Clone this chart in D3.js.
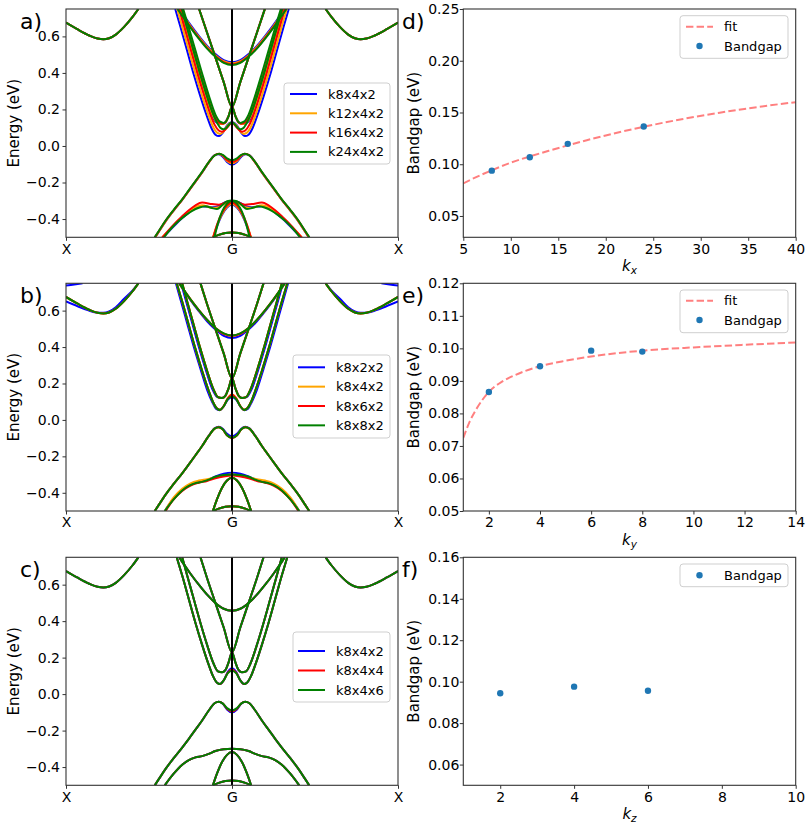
<!DOCTYPE html>
<html>
<head>
<meta charset="utf-8">
<script src="https://cdn.jsdelivr.net/npm/d3@7"></script>
<style>
  html, body { margin: 0; background: #fff; }
  svg { display: block; font-family: "DejaVu Sans", sans-serif; }
</style>
</head>
<body>
<svg id="fig" width="807" height="827"></svg>
<script>
/* band structures (a-c) + bandgap convergence (d-f) */

/* band shapes: right half only, [distance from G, energy eV]; left half is the mirror */
const CB_EDGE = [[0.564,0.75],[0.6,0.705],[0.65,0.652],[0.7,0.61],[0.74,0.59],[0.775,0.584],[0.81,0.588],[0.86,0.605],[0.93,0.638],[1.0,0.675]];
const CB1 = [[0,0.128],[0.025,0.115],[0.05,0.075],[0.072,0.055],[0.09,0.062],[0.115,0.1],[0.14,0.16],[0.18,0.27],[0.22,0.39],[0.26,0.52],[0.3,0.65],[0.333,0.75]];
const CB2 = [[0,0.23],[0.02,0.175],[0.04,0.132],[0.06,0.12],[0.085,0.125],[0.11,0.165],[0.15,0.27],[0.19,0.39],[0.23,0.52],[0.27,0.65],[0.3,0.75]];
const CB3 = [[0,0.23],[0.05,0.365],[0.1,0.5],[0.15,0.635],[0.19,0.75]];
const CB4 = [[0,0.457],[0.05,0.468],[0.1,0.5],[0.15,0.545],[0.2,0.6],[0.25,0.66],[0.3,0.725],[0.318,0.75]];
const VB1 = [[0,-0.09],[0.03,-0.077],[0.055,-0.052],[0.08,-0.042],[0.105,-0.05],[0.14,-0.09],[0.18,-0.145],[0.22,-0.195],[0.26,-0.245],[0.3,-0.293],[0.35,-0.35],[0.4,-0.41],[0.44,-0.465],[0.465,-0.5]];
const VB2 = [[0,-0.3],[0.05,-0.302],[0.1,-0.312],[0.14,-0.328],[0.18,-0.34],[0.22,-0.347],[0.26,-0.362],[0.3,-0.387],[0.35,-0.435],[0.405,-0.5]];
const VB3 = [[0,-0.318],[0.03,-0.333],[0.06,-0.372],[0.09,-0.435],[0.115,-0.5]];
const VB4 = [[0,-0.474],[0.04,-0.477],[0.08,-0.487],[0.115,-0.5]];

/* panel a: per-series bands (k8x4x2, k12x4x2, k16x4x2, k24x4x2) */
const A_CB1 = [
  [[0,0.13],[0.03,0.113],[0.055,0.073],[0.078,0.054],[0.1,0.062],[0.125,0.1],[0.15,0.16],[0.19,0.27],[0.23,0.39],[0.27,0.52],[0.31,0.65],[0.342,0.75]],
  [[0,0.128],[0.03,0.108],[0.05,0.08],[0.07,0.066],[0.09,0.073],[0.115,0.107],[0.14,0.165],[0.18,0.275],[0.22,0.395],[0.26,0.525],[0.3,0.655],[0.33,0.75]],
  [[0,0.128],[0.025,0.105],[0.045,0.086],[0.06,0.078],[0.08,0.085],[0.105,0.117],[0.13,0.172],[0.17,0.283],[0.21,0.403],[0.25,0.533],[0.29,0.663],[0.317,0.75]],
  [[0,0.13],[0.02,0.115],[0.035,0.098],[0.05,0.092],[0.068,0.098],[0.09,0.127],[0.12,0.188],[0.16,0.298],[0.2,0.418],[0.24,0.548],[0.28,0.678],[0.302,0.75]]
];
const A_CB2 = [
  [[0,0.215],[0.02,0.165],[0.04,0.132],[0.065,0.12],[0.095,0.13],[0.125,0.175],[0.165,0.28],[0.205,0.4],[0.245,0.525],[0.285,0.65],[0.318,0.75]],
  [[0,0.215],[0.02,0.165],[0.04,0.13],[0.06,0.12],[0.088,0.128],[0.118,0.172],[0.158,0.277],[0.198,0.397],[0.238,0.522],[0.278,0.647],[0.312,0.75]],
  [[0,0.215],[0.02,0.165],[0.038,0.13],[0.055,0.122],[0.08,0.13],[0.11,0.172],[0.15,0.277],[0.19,0.397],[0.23,0.522],[0.27,0.647],[0.304,0.75]],
  [[0,0.215],[0.02,0.165],[0.035,0.135],[0.05,0.126],[0.072,0.133],[0.1,0.172],[0.14,0.277],[0.18,0.397],[0.22,0.522],[0.26,0.647],[0.294,0.75]]
];
const A_CB3 = [[0,0.215],[0.05,0.35],[0.1,0.485],[0.15,0.62],[0.198,0.75]];
const A_CB4 = [
  [[0,0.458],[0.05,0.47],[0.1,0.503],[0.15,0.548],[0.2,0.603],[0.25,0.663],[0.3,0.728],[0.317,0.75]],
  [[0,0.452],[0.05,0.464],[0.1,0.497],[0.15,0.542],[0.2,0.597],[0.25,0.657],[0.3,0.722],[0.321,0.75]],
  [[0,0.447],[0.05,0.459],[0.1,0.492],[0.15,0.537],[0.2,0.592],[0.25,0.652],[0.3,0.717],[0.325,0.75]],
  [[0,0.443],[0.05,0.455],[0.1,0.488],[0.15,0.533],[0.2,0.588],[0.25,0.648],[0.3,0.713],[0.328,0.75]]
];
const A_VB1 = [
  [[0,-0.103],[0.03,-0.088],[0.057,-0.057],[0.082,-0.045],[0.108,-0.053],[0.14,-0.09],[0.18,-0.145],[0.22,-0.195],[0.26,-0.245],[0.3,-0.295],[0.35,-0.352],[0.4,-0.413],[0.44,-0.468],[0.463,-0.5]],
  [[0,-0.095],[0.03,-0.082],[0.056,-0.054],[0.08,-0.044],[0.106,-0.052],[0.14,-0.09],[0.18,-0.145],[0.22,-0.195],[0.26,-0.245],[0.3,-0.295],[0.35,-0.352],[0.4,-0.413],[0.44,-0.468],[0.463,-0.5]],
  [[0,-0.088],[0.03,-0.077],[0.055,-0.052],[0.078,-0.043],[0.104,-0.051],[0.14,-0.09],[0.18,-0.144],[0.22,-0.194],[0.26,-0.244],[0.3,-0.294],[0.35,-0.35],[0.4,-0.41],[0.44,-0.466],[0.464,-0.5]],
  [[0,-0.078],[0.03,-0.068],[0.053,-0.05],[0.076,-0.042],[0.102,-0.05],[0.14,-0.088],[0.18,-0.142],[0.22,-0.192],[0.26,-0.242],[0.3,-0.292],[0.35,-0.348],[0.4,-0.408],[0.44,-0.464],[0.466,-0.5]]
];
const A_VB2 = [
  [[0,-0.303],[0.04,-0.308],[0.08,-0.328],[0.12,-0.335],[0.18,-0.33],[0.22,-0.34],[0.26,-0.365],[0.3,-0.395],[0.34,-0.43],[0.38,-0.467],[0.415,-0.5]],
  [[0,-0.31],[0.04,-0.315],[0.08,-0.335],[0.12,-0.338],[0.18,-0.325],[0.22,-0.335],[0.26,-0.36],[0.3,-0.39],[0.34,-0.425],[0.38,-0.462],[0.42,-0.5]],
  [[0,-0.305],[0.04,-0.31],[0.08,-0.322],[0.12,-0.318],[0.18,-0.31],[0.22,-0.325],[0.26,-0.352],[0.3,-0.385],[0.34,-0.42],[0.38,-0.46],[0.42,-0.5]],
  [[0,-0.298],[0.03,-0.302],[0.06,-0.325],[0.09,-0.345],[0.12,-0.34],[0.16,-0.33],[0.2,-0.338],[0.24,-0.355],[0.28,-0.38],[0.32,-0.41],[0.36,-0.445],[0.41,-0.5]]
];
const A_VB3 = [
  [[0,-0.322],[0.03,-0.337],[0.06,-0.377],[0.09,-0.44],[0.113,-0.5]],
  [[0,-0.318],[0.03,-0.333],[0.06,-0.373],[0.09,-0.435],[0.115,-0.5]],
  [[0,-0.31],[0.03,-0.326],[0.06,-0.367],[0.09,-0.43],[0.113,-0.5]],
  [[0,-0.3],[0.03,-0.316],[0.06,-0.36],[0.085,-0.425],[0.106,-0.5]]
];

/* panel b: per-series bands (k8x2x2, k8x4x2, k8x6x2, k8x8x2) */
const B_EDGE = [
  [[0.564,0.75],[0.6,0.71],[0.65,0.665],[0.7,0.618],[0.74,0.595],[0.775,0.588],[0.82,0.59],[0.87,0.603],[0.93,0.624],[1.0,0.65]],
  CB_EDGE, CB_EDGE, CB_EDGE
];
const B_XTOP = [[[0.9,0.75],[0.95,0.743],[1.0,0.738]], null, null, null];
const B_CB1 = [
  [[0,0.125],[0.025,0.112],[0.05,0.074],[0.075,0.053],[0.095,0.06],[0.12,0.1],[0.15,0.165],[0.19,0.28],[0.23,0.4],[0.27,0.53],[0.31,0.66],[0.338,0.75]],
  [[0,0.14],[0.025,0.12],[0.05,0.076],[0.072,0.056],[0.09,0.063],[0.115,0.1],[0.14,0.16],[0.18,0.27],[0.22,0.39],[0.26,0.52],[0.3,0.65],[0.333,0.75]],
  [[0,0.138],[0.025,0.119],[0.05,0.076],[0.072,0.056],[0.09,0.063],[0.115,0.1],[0.14,0.16],[0.18,0.27],[0.22,0.39],[0.26,0.52],[0.3,0.65],[0.333,0.75]],
  CB1
];
const B_CB2 = [
  [[0,0.23],[0.02,0.175],[0.04,0.134],[0.065,0.12],[0.09,0.126],[0.118,0.168],[0.158,0.275],[0.198,0.395],[0.238,0.525],[0.278,0.655],[0.307,0.75]],
  CB2, CB2, CB2
];
const B_CB4 = [
  [[0,0.45],[0.05,0.462],[0.1,0.496],[0.15,0.541],[0.2,0.597],[0.25,0.658],[0.3,0.724],[0.32,0.75]],
  [[0,0.462],[0.05,0.473],[0.1,0.504],[0.15,0.549],[0.2,0.603],[0.25,0.662],[0.3,0.726],[0.318,0.75]],
  [[0,0.462],[0.05,0.473],[0.1,0.504],[0.15,0.549],[0.2,0.603],[0.25,0.662],[0.3,0.726],[0.318,0.75]],
  [[0,0.464],[0.05,0.475],[0.1,0.505],[0.15,0.55],[0.2,0.603],[0.25,0.662],[0.3,0.726],[0.318,0.75]]
];
const B_VB1 = [
  [[0,-0.09],[0.03,-0.076],[0.056,-0.048],[0.08,-0.038],[0.105,-0.046],[0.14,-0.087],[0.18,-0.143],[0.22,-0.194],[0.26,-0.244],[0.3,-0.293],[0.35,-0.35],[0.4,-0.41],[0.44,-0.465],[0.465,-0.5]],
  [[0,-0.1],[0.03,-0.085],[0.056,-0.052],[0.08,-0.04],[0.105,-0.048],[0.14,-0.088],[0.18,-0.143],[0.22,-0.194],[0.26,-0.244],[0.3,-0.293],[0.35,-0.35],[0.4,-0.41],[0.44,-0.465],[0.465,-0.5]],
  [[0,-0.1],[0.03,-0.085],[0.056,-0.052],[0.08,-0.04],[0.105,-0.048],[0.14,-0.088],[0.18,-0.143],[0.22,-0.194],[0.26,-0.244],[0.3,-0.293],[0.35,-0.35],[0.4,-0.41],[0.44,-0.465],[0.465,-0.5]],
  [[0,-0.098],[0.03,-0.084],[0.056,-0.051],[0.08,-0.04],[0.105,-0.048],[0.14,-0.088],[0.18,-0.143],[0.22,-0.194],[0.26,-0.244],[0.3,-0.293],[0.35,-0.35],[0.4,-0.41],[0.44,-0.465],[0.465,-0.5]]
];
const B_VB2 = [
  [[0,-0.29],[0.05,-0.295],[0.1,-0.31],[0.15,-0.33],[0.2,-0.34],[0.25,-0.355],[0.3,-0.385],[0.35,-0.43],[0.405,-0.5]],
  [[0,-0.3],[0.05,-0.305],[0.1,-0.315],[0.15,-0.325],[0.2,-0.333],[0.25,-0.348],[0.3,-0.378],[0.35,-0.424],[0.405,-0.5]],
  [[0,-0.305],[0.05,-0.31],[0.1,-0.32],[0.15,-0.335],[0.2,-0.345],[0.25,-0.36],[0.3,-0.39],[0.35,-0.435],[0.4,-0.5]],
  VB2
];

/* panel c: per-series bands (k8x4x2, k8x4x4, k8x4x6) */
const C_CB1 = [
  [[0,0.142],[0.025,0.122],[0.05,0.076],[0.072,0.055],[0.09,0.062],[0.115,0.1],[0.14,0.16],[0.18,0.27],[0.22,0.39],[0.26,0.52],[0.3,0.65],[0.333,0.75]],
  [[0,0.135],[0.025,0.118],[0.05,0.075],[0.072,0.055],[0.09,0.062],[0.115,0.1],[0.14,0.16],[0.18,0.27],[0.22,0.39],[0.26,0.52],[0.3,0.65],[0.333,0.75]],
  CB1
];
const C_VB1 = [
  [[0,-0.1],[0.03,-0.084],[0.055,-0.053],[0.08,-0.042],[0.105,-0.05],[0.14,-0.09],[0.18,-0.145],[0.22,-0.195],[0.26,-0.245],[0.3,-0.293],[0.35,-0.35],[0.4,-0.41],[0.44,-0.465],[0.465,-0.5]],
  [[0,-0.095],[0.03,-0.081],[0.055,-0.052],[0.08,-0.042],[0.105,-0.05],[0.14,-0.09],[0.18,-0.145],[0.22,-0.195],[0.26,-0.245],[0.3,-0.293],[0.35,-0.35],[0.4,-0.41],[0.44,-0.465],[0.465,-0.5]],
  VB1
];

const NAMES_A = ['k8x4x2', 'k12x4x2', 'k16x4x2', 'k24x4x2'];
const NAMES_B = ['k8x2x2', 'k8x4x2', 'k8x6x2', 'k8x8x2'];
const NAMES_C = ['k8x4x2', 'k8x4x4', 'k8x4x6'];
const COLORS_4 = ['#0000ff', '#ffa500', '#ff0000', '#008000'];
const COLORS_3 = ['#0000ff', '#ff0000', '#008000'];

const ENERGY_TICKS = [-0.4, -0.2, 0, 0.2, 0.4, 0.6];
const PATH_POS = [0, 1, 2];
const PATH_LABELS = ['X', 'G', 'X'];

/* bandgap convergence */
const D_K = [8, 12, 16, 24];
const D_GAP = [0.0938, 0.1068, 0.1197, 0.1365];
const D_FIT_K = [5, 6, 8, 10, 12, 14, 16, 18, 20, 24, 28, 32, 36, 40];
const D_FIT_GAP = [0.0815, 0.086, 0.0942, 0.1015, 0.1075, 0.113, 0.1182, 0.1232, 0.1278, 0.1362, 0.1435, 0.1498, 0.1553, 0.1600];
const D_XTICKS = [5, 10, 15, 20, 25, 30, 35, 40];
const D_YTICKS = [0.05, 0.10, 0.15, 0.20, 0.25];

const E_K = [2, 4, 6, 8];
const E_GAP = [0.0866, 0.0945, 0.0993, 0.0990];
const E_FIT_K = [1, 1.25, 1.5, 2, 2.5, 3, 4, 5, 6, 7, 8, 10, 12, 14];
const E_FIT_GAP = [0.0725, 0.0775, 0.0812, 0.0866, 0.0897, 0.0917, 0.0945, 0.0962, 0.0975, 0.0985, 0.0993, 0.1003, 0.1011, 0.1018];
const E_XTICKS = [2, 4, 6, 8, 10, 12, 14];
const E_YTICKS = [0.05, 0.06, 0.07, 0.08, 0.09, 0.10, 0.11, 0.12];

const F_K = [2, 4, 6];
const F_GAP = [0.0944, 0.0976, 0.0956];
const F_XTICKS = [2, 4, 6, 8, 10];
const F_YTICKS = [0.06, 0.08, 0.10, 0.12, 0.14, 0.16];

/* ---------- drawing ---------- */
const svg = d3.select('#fig');
const FONT = '"DejaVu Sans", sans-serif';
const SPINE = '#333';
const ROWS = [{ t: 9, b: 237.3 }, { t: 283.3, b: 511 }, { t: 557.3, b: 785.3 }];
const LEFT = { l: 66, r: 398 };
const RIGHT = { l: 463.3, r: 795.7 };
const defs = svg.append('defs');
let clipN = 0;

function clipFor(box) {
  const id = 'clip' + (clipN++);
  defs.append('clipPath').attr('id', id).append('rect')
    .attr('x', box.l).attr('y', box.t).attr('width', box.r - box.l).attr('height', box.b - box.t);
  return id;
}

function styleAxis(g, size) {
  g.attr('font-family', FONT).attr('font-size', size);
  g.select('.domain').remove();
  g.selectAll('.tick line').attr('stroke', SPINE).attr('stroke-width', 1);
  g.selectAll('.tick text').attr('fill', '#000');
}

function spines(box) {
  svg.append('rect').attr('x', box.l).attr('y', box.t)
    .attr('width', box.r - box.l).attr('height', box.b - box.t)
    .attr('fill', 'none').attr('stroke', SPINE).attr('stroke-width', 1.1);
}

function panelLetter(txt, x, y) {
  svg.append('text').attr('x', x).attr('y', y).attr('font-size', 22).attr('font-family', FONT).text(txt);
}

function yLabel(txt, x, box) {
  svg.append('text')
    .attr('transform', `translate(${x},${(box.t + box.b) / 2}) rotate(-90)`)
    .attr('text-anchor', 'middle').attr('font-size', 15).attr('font-family', FONT)
    .text(txt);
}

function legendBox(box, items) {
  const g = svg.append('g').attr('font-family', FONT).attr('font-size', 13);
  g.append('rect').attr('x', box.x).attr('y', box.y).attr('width', box.w).attr('height', box.h)
    .attr('rx', 3).attr('fill', '#fff').attr('fill-opacity', 0.8)
    .attr('stroke', '#cfcfcf').attr('stroke-width', 1);
  items.forEach((it, i) => {
    const cy = box.row0 + i * box.step;
    if (it.kind === 'dot') {
      g.append('circle').attr('cx', box.lx + box.ll / 2).attr('cy', cy).attr('r', 3.2).attr('fill', it.color);
    } else {
      g.append('line').attr('x1', box.lx).attr('x2', box.lx + box.ll).attr('y1', cy).attr('y2', cy)
        .attr('stroke', it.color).attr('stroke-width', 2)
        .attr('stroke-opacity', it.kind === 'dash' ? 0.5 : 1)
        .attr('stroke-dasharray', it.kind === 'dash' ? '7.4,3.2' : null);
    }
    g.append('text').attr('x', box.tx).attr('y', cy).attr('dy', '0.35em').text(it.label);
  });
}

function halves(pts) {
  const left = pts.map(([d, e]) => [1 - d, e]).reverse();
  const right = pts.map(([d, e]) => [1 + d, e]);
  return pts[0][0] === 0 ? [left.concat(right.slice(1))] : [left, right];
}

function bandPanel(cfg) {
  const box = { l: LEFT.l, r: LEFT.r, t: ROWS[cfg.row].t, b: ROWS[cfg.row].b };
  const x = d3.scaleLinear().domain([0, 2]).range([box.l, box.r]);
  const y = d3.scaleLinear().domain([-0.5, 0.75]).range([box.b, box.t]);
  const line = d3.line().x((d) => x(d[0])).y((d) => y(d[1])).curve(d3.curveMonotoneX);

  const g = svg.append('g').attr('clip-path', `url(#${clipFor(box)})`);
  cfg.colors.forEach((color, i) => {
    cfg.bands.forEach((band) => {
      const perSeries = Array.isArray(band[0]) && Array.isArray(band[0][0]);
      const pts = perSeries ? band[i] : band;
      if (!pts) return;
      halves(pts).forEach((seg) => {
        g.append('path').attr('d', line(seg)).attr('fill', 'none')
          .attr('stroke', color).attr('stroke-width', 2).attr('stroke-linejoin', 'round');
      });
    });
  });
  g.append('line').attr('x1', x(1)).attr('x2', x(1)).attr('y1', box.t).attr('y2', box.b)
    .attr('stroke', '#000').attr('stroke-width', 2);

  spines(box);
  svg.append('g').attr('transform', `translate(${box.l},0)`)
    .call(d3.axisLeft(y).tickValues(ENERGY_TICKS).tickSize(3.5).tickPadding(2.5).tickFormat(d3.format('.1f')))
    .call((a) => styleAxis(a, 14));
  svg.append('g').attr('transform', `translate(0,${box.b})`)
    .call(d3.axisBottom(x).tickValues(PATH_POS).tickSize(3.5).tickPadding(3).tickFormat((d, i) => PATH_LABELS[i]))
    .call((a) => styleAxis(a, 14));

  yLabel('Energy (eV)', 19, box);
  panelLetter(cfg.letter, 20, box.t + 20);
  legendBox(cfg.legend, cfg.names.map((n, i) => ({ label: n, color: cfg.colors[i], kind: 'line' })));
}

function gapPanel(cfg) {
  const box = { l: RIGHT.l, r: RIGHT.r, t: ROWS[cfg.row].t, b: ROWS[cfg.row].b };
  const x = d3.scaleLinear().domain(cfg.xDomain).range([box.l, box.r]);
  const y = d3.scaleLinear().domain(cfg.yDomain).range([box.b, box.t]);
  const g = svg.append('g').attr('clip-path', `url(#${clipFor(box)})`);

  if (cfg.fitK) {
    const line = d3.line().x((d) => x(d[0])).y((d) => y(d[1])).curve(d3.curveMonotoneX);
    g.append('path').attr('d', line(d3.zip(cfg.fitK, cfg.fitGap)))
      .attr('fill', 'none').attr('stroke', '#ff0000').attr('stroke-opacity', 0.5)
      .attr('stroke-width', 2).attr('stroke-dasharray', '7.4,3.2');
  }
  g.selectAll('circle').data(d3.zip(cfg.k, cfg.gap)).join('circle')
    .attr('cx', (d) => x(d[0])).attr('cy', (d) => y(d[1])).attr('r', 3.2).attr('fill', '#1f77b4');

  spines(box);
  svg.append('g').attr('transform', `translate(${box.l},0)`)
    .call(d3.axisLeft(y).tickValues(cfg.yTicks).tickSize(3.5).tickPadding(0.5).tickFormat(d3.format('.2f')))
    .call((a) => styleAxis(a, 14));
  svg.append('g').attr('transform', `translate(0,${box.b})`)
    .call(d3.axisBottom(x).tickValues(cfg.xTicks).tickSize(3.5).tickPadding(3).tickFormat(d3.format('d')))
    .call((a) => styleAxis(a, 14));

  const t = svg.append('text').attr('x', (box.l + box.r) / 2).attr('y', box.b + 34)
    .attr('text-anchor', 'middle').attr('font-size', 15).attr('font-family', FONT);
  t.append('tspan').attr('font-style', 'italic').text('k');
  t.append('tspan').attr('font-style', 'italic').attr('font-size', 10.5).attr('dy', 3).text(cfg.sub);

  yLabel('Bandgap (eV)', 419, box);
  panelLetter(cfg.letter, 402, box.t + 20);
  const items = [];
  if (cfg.fitK) items.push({ label: 'fit', color: '#ff0000', kind: 'dash' });
  items.push({ label: 'Bandgap', color: '#1f77b4', kind: 'dot' });
  legendBox(cfg.legend, items);
}

bandPanel({
  row: 0, letter: 'a)', names: NAMES_A, colors: COLORS_4,
  bands: [CB_EDGE, VB4, A_VB3, A_VB2, A_VB1, A_CB1, A_CB2, A_CB3, A_CB4],
  legend: { x: 284, y: 83, w: 106, h: 81, row0: 94, step: 19.3, lx: 290, ll: 27, tx: 328 }
});
bandPanel({
  row: 1, letter: 'b)', names: NAMES_B, colors: COLORS_4,
  bands: [B_EDGE, B_XTOP, VB4, VB3, B_VB2, B_VB1, B_CB1, B_CB2, CB3, B_CB4],
  legend: { x: 293, y: 355, w: 97, h: 83, row0: 367.3, step: 19.35, lx: 298, ll: 27, tx: 336 }
});
bandPanel({
  row: 2, letter: 'c)', names: NAMES_C, colors: COLORS_3,
  bands: [CB_EDGE, VB4, VB3, VB2, C_VB1, C_CB1, CB2, CB3, CB4],
  legend: { x: 293, y: 632, w: 97, h: 70, row0: 651, step: 19.5, lx: 298, ll: 27, tx: 336 }
});

gapPanel({
  row: 0, letter: 'd)', sub: 'x', xDomain: [5, 40], yDomain: [0.0294, 0.25],
  xTicks: D_XTICKS, yTicks: D_YTICKS, k: D_K, gap: D_GAP, fitK: D_FIT_K, fitGap: D_FIT_GAP,
  legend: { x: 680, y: 15.7, w: 108, h: 42.6, row0: 26.7, step: 19.3, lx: 686, ll: 27, tx: 724 }
});
gapPanel({
  row: 1, letter: 'e)', sub: 'y', xDomain: [1, 14], yDomain: [0.05, 0.12],
  xTicks: E_XTICKS, yTicks: E_YTICKS, k: E_K, gap: E_GAP, fitK: E_FIT_K, fitGap: E_FIT_GAP,
  legend: { x: 680, y: 290, w: 108, h: 42.7, row0: 300.7, step: 19.3, lx: 686, ll: 27, tx: 724 }
});
gapPanel({
  row: 2, letter: 'f)', sub: 'z', xDomain: [1, 10], yDomain: [0.05, 0.16],
  xTicks: F_XTICKS, yTicks: F_YTICKS, k: F_K, gap: F_GAP,
  legend: { x: 680, y: 564, w: 108, h: 22.7, row0: 575.3, step: 19.3, lx: 686, ll: 27, tx: 724 }
});
</script>
</body>
</html>
